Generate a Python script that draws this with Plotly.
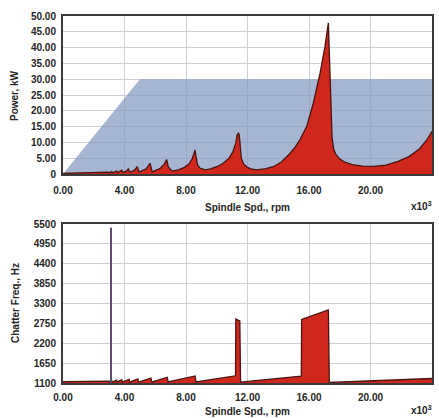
import plotly.graph_objects as go

# ---- data (spindle speed in x10^3 rpm) ----
limit_x = [0.0, 5.0, 24.0]
limit_y = [0.0, 30.0, 30.0]

power_x = [0.0, 1.0, 2.0, 2.6, 2.95, 3.0, 3.17, 3.22, 3.49, 3.55, 3.82, 3.9,
           4.1, 4.25, 4.35, 4.65, 4.83, 4.95, 5.4, 5.66, 5.8, 6.3, 6.6, 6.74,
           6.85, 7.1, 7.5, 7.9, 8.2, 8.4, 8.52, 8.59, 8.65, 8.75, 8.9, 9.24,
           9.6, 10.0, 10.4, 10.8, 11.05, 11.25, 11.32, 11.4, 11.46, 11.52,
           11.6, 11.75, 12.0, 12.3, 12.6, 13.2, 13.68, 14.2, 14.76, 15.1,
           15.41, 15.85, 16.28, 16.72, 17.04, 17.26, 17.3, 17.35, 17.4, 17.45,
           17.5, 17.6, 17.75, 18.0, 18.3, 18.8, 19.5, 20.2, 21.0, 21.8, 22.5,
           23.2, 23.7, 24.0]
power_y = [0.2, 0.3, 0.45, 0.5, 0.6, 0.35, 0.75, 0.4, 0.95, 0.45, 1.2, 0.5,
           0.8, 1.6, 0.55, 1.2, 2.3, 0.6, 1.6, 3.4, 0.7, 1.7, 3.2, 4.6,
           2.2, 0.9, 1.3, 2.1, 3.2, 4.8, 6.5, 7.6, 5.5, 3.0, 1.9, 1.3,
           1.6, 2.3, 3.3, 5.0, 7.0, 10.0, 12.3, 12.9, 12.5, 8.5,
           5.0, 3.2, 2.1, 1.5, 1.3, 1.7, 2.3, 3.8, 6.5, 8.5,
           10.8, 15.0, 22.4, 31.9, 40.3, 47.8, 42.0, 33.0, 24.0, 16.0,
           11.5, 8.0, 6.2, 4.8, 3.8, 3.0, 2.5, 2.4, 2.8, 4.0, 5.5,
           8.0, 11.0, 13.5]

freq_x = [0.0, 3.0, 3.05, 3.17, 3.2, 3.49, 3.52, 3.82, 3.86, 4.3, 4.35,
          4.87, 4.92, 5.72, 5.78, 6.78, 6.84, 8.59, 8.65, 11.22, 11.24,
          11.5, 11.55, 15.5, 15.52, 17.26, 17.32, 24.0]
freq_y = [1140, 1150, 1125, 1165, 1125, 1180, 1125, 1190, 1125, 1200, 1125,
          1215, 1125, 1235, 1125, 1260, 1130, 1295, 1130, 1300, 2870,
          2820, 1125, 1290, 2860, 3120, 1115, 1225]

spike_x = [3.12, 3.12]
spike_y = [1100, 5400]

x_tickvals = [0, 4, 8, 12, 16, 20, 24]
x_ticktext = ["0.00", "4.00", "8.00", "12.00", "16.00", "20.00", "24.00"]
p_tickvals = [0, 5, 10, 15, 20, 25, 30, 35, 40, 45, 50]
p_ticktext = ["0", "5.00", "10.00", "15.00", "20.00", "25.00", "30.00",
              "35.00", "40.00", "45.00", "50.00"]
f_tickvals = [1100, 1650, 2200, 2750, 3300, 3850, 4400, 4950, 5500]
f_ticktext = [str(v) for v in f_tickvals]

# ---- figure geometry (pixels) ----
W, H = 439, 418
L, R, T, B = 63, 432, 16, 383          # outer plot-area box
PW, PH = R - L, B - T

RED = "#d0271d"
RED_LINE = "#4a1410"
BLUE = "rgba(132,152,192,0.72)"
FONT = dict(family="Liberation Sans, Arial, sans-serif", size=10, color="#262626", weight="bold")


def fx(p):
    return (p - L) / PW


def fy(p):
    return 1 - (p - T) / PH


fig = go.Figure()
fig.add_trace(go.Scatter(x=limit_x, y=limit_y, mode="lines", fill="tozeroy",
                         fillcolor=BLUE, line=dict(width=0), hoverinfo="skip",
                         xaxis="x", yaxis="y"))
fig.add_trace(go.Scatter(x=power_x, y=power_y, mode="lines", fill="tozeroy",
                         fillcolor=RED, line=dict(color=RED_LINE, width=1.3),
                         xaxis="x", yaxis="y"))
fig.add_trace(go.Scatter(x=freq_x, y=freq_y, mode="lines", fill="tozeroy",
                         fillcolor=RED, line=dict(color=RED_LINE, width=1.3),
                         xaxis="x2", yaxis="y2"))
fig.add_trace(go.Scatter(x=spike_x, y=spike_y, mode="lines",
                         line=dict(color="#5c4a68", width=2),
                         xaxis="x2", yaxis="y2"))

top_dom = [fy(174), fy(16)]
bot_dom = [fy(383), fy(224)]

axis_common = dict(showline=True, mirror=True, linecolor="#3a3a3a", linewidth=2,
                   showgrid=True, gridcolor="#cfcfd8", gridwidth=1,
                   zeroline=False, tickfont=FONT, ticks="outside",
                   tickcolor="rgba(0,0,0,0)", fixedrange=True, automargin=False)

fig.update_layout(
    width=W, height=H, showlegend=False,
    margin=dict(l=L, r=W - R, t=T, b=H - B, autoexpand=False),
    paper_bgcolor="white", plot_bgcolor="white",
    xaxis=dict(domain=[0, 1], anchor="y", range=[0, 24], tickmode="array",
               tickvals=x_tickvals, ticktext=x_ticktext, ticklen=6, **axis_common),
    yaxis=dict(domain=top_dom, anchor="x", range=[0, 50], tickmode="array",
               tickvals=p_tickvals, ticktext=p_ticktext, ticklen=3, **axis_common),
    xaxis2=dict(domain=[0, 1], anchor="y2", range=[0, 24], tickmode="array",
                tickvals=x_tickvals, ticktext=x_ticktext, ticklen=4, **axis_common),
    yaxis2=dict(domain=bot_dom, anchor="x2", range=[1100, 5500], tickmode="array",
                tickvals=f_tickvals, ticktext=f_ticktext, ticklen=3, **axis_common),
)

annotations = [
    dict(text="Spindle Spd., rpm", x=fx(248), y=fy(207), xanchor="center"),
    dict(text="Spindle Spd., rpm", x=fx(248), y=fy(411.5), xanchor="center"),
    dict(text="x10<sup>3</sup>", x=fx(434), y=fy(206), xanchor="right"),
    dict(text="x10<sup>3</sup>", x=fx(434), y=fy(410), xanchor="right"),
    dict(text="Power, kW", x=fx(15), y=fy(95), textangle=-90, xanchor="center"),
    dict(text="Chatter Freq., Hz", x=fx(15), y=fy(303), textangle=-90, xanchor="center"),
]
for a in annotations:
    fig.add_annotation(xref="paper", yref="paper", showarrow=False,
                       yanchor="middle", font=FONT, **a)

fig.write_html("out.html", config={"displayModeBar": False},
               post_script="document.body.style.margin='0';document.body.style.overflow='hidden';")
